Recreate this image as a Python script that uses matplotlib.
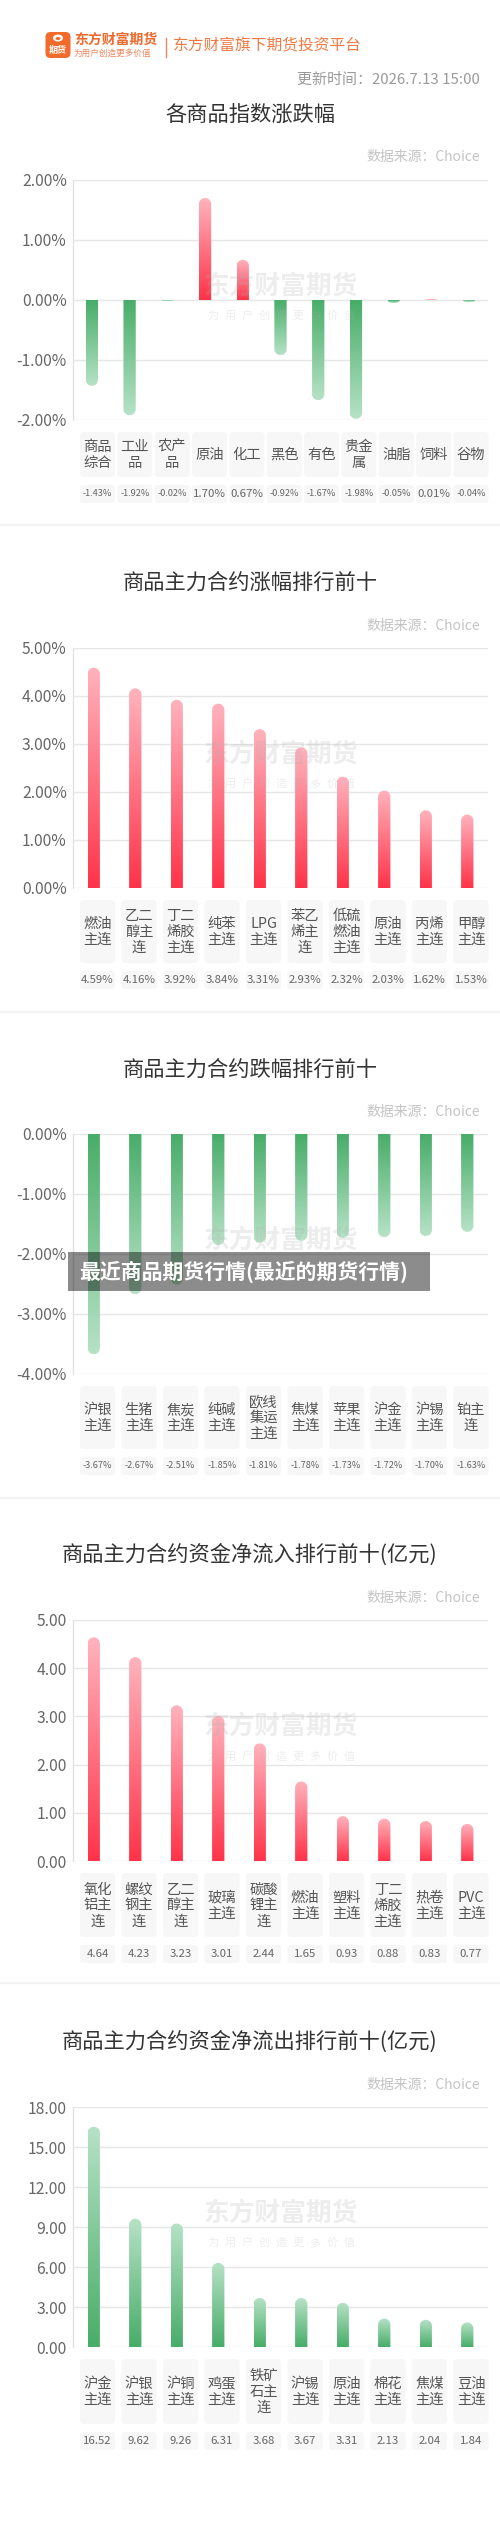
import numpy as np
import matplotlib
matplotlib.use("Agg")
import matplotlib.pyplot as plt
from matplotlib.colors import to_rgba
from matplotlib.path import Path
from matplotlib.patches import PathPatch, FancyBboxPatch, Rectangle, Ellipse
from matplotlib.ticker import FuncFormatter

plt.rcParams["font.family"] = ["Noto Sans CJK SC", "DejaVu Sans"]

# =========================
# data
# =========================
cats1 = ["商品\n综合", "工业\n品", "农产\n品", "原油", "化工", "黑色", "有色", "贵金\n属", "油脂", "饲料", "谷物"]
vals1 = [-1.43, -1.92, -0.02, 1.70, 0.67, -0.92, -1.67, -1.98, -0.05, 0.01, -0.04]

cats2 = ["燃油\n主连", "乙二\n醇主\n连", "丁二\n烯胶\n主连", "纯苯\n主连", "LPG\n主连",
         "苯乙\n烯主\n连", "低硫\n燃油\n主连", "原油\n主连", "丙烯\n主连", "甲醇\n主连"]
vals2 = [4.59, 4.16, 3.92, 3.84, 3.31, 2.93, 2.32, 2.03, 1.62, 1.53]

cats3 = ["沪银\n主连", "生猪\n主连", "焦炭\n主连", "纯碱\n主连", "欧线\n集运\n主连",
         "焦煤\n主连", "苹果\n主连", "沪金\n主连", "沪锡\n主连", "铂主\n连"]
vals3 = [-3.67, -2.67, -2.51, -1.85, -1.81, -1.78, -1.73, -1.72, -1.70, -1.63]

cats4 = ["氧化\n铝主\n连", "螺纹\n钢主\n连", "乙二\n醇主\n连", "玻璃\n主连", "碳酸\n锂主\n连",
         "燃油\n主连", "塑料\n主连", "丁二\n烯胶\n主连", "热卷\n主连", "PVC\n主连"]
vals4 = [4.64, 4.23, 3.23, 3.01, 2.44, 1.65, 0.93, 0.88, 0.83, 0.77]

cats5 = ["沪金\n主连", "沪银\n主连", "沪铜\n主连", "鸡蛋\n主连", "铁矿\n石主\n连",
         "沪锡\n主连", "原油\n主连", "棉花\n主连", "焦煤\n主连", "豆油\n主连"]
vals5 = [16.52, 9.62, 9.26, 6.31, 3.68, 3.67, 3.31, 2.13, 2.04, 1.84]

titles = ["各商品指数涨跌幅", "商品主力合约涨幅排行前十", "商品主力合约跌幅排行前十",
          "商品主力合约资金净流入排行前十(亿元)", "商品主力合约资金净流出排行前十(亿元)"]

# =========================
# layout (pixels, top origin)
# =========================
W, H = 500, 2543
AX_L, AX_R = 73, 488
BAR_PX = 12.3

RED0, RED1 = "#ff3349", "#ffb3bd"      # base -> tip
GREEN0, GREEN1 = "#48ad69", "#b6e2c6"

fig = plt.figure(figsize=(W / 100, H / 100), dpi=100)
fig.patch.set_facecolor("white")

bg = fig.add_axes([0, 0, 1, 1], zorder=0)
bg.set_xlim(0, W)
bg.set_ylim(H, 0)
bg.axis("off")


def px_axes(top, bottom, z=1):
    return fig.add_axes([AX_L / W, 1 - bottom / H, (AX_R - AX_L) / W, (bottom - top) / H], zorder=z)


def grad(c0, c1, n=80):
    a = np.array(to_rgba(c0))
    b = np.array(to_rgba(c1))
    t = np.linspace(0, 1, n)[:, None]
    return (a * (1 - t) + b * t)[:, None, :]


# =========================
# header
# =========================
bg.add_patch(FancyBboxPatch((45.5, 32), 25, 26, boxstyle="round,pad=0,rounding_size=5",
                            fc="#f26b2c", ec="none"))
bg.add_patch(Ellipse((58, 38), 10, 7, fc="white", ec="none"))
bg.add_patch(Ellipse((58, 38.5), 5, 3, fc="#f26b2c", ec="none"))
bg.text(58, 50.5, "期货", color="white", fontsize=6.5, weight="bold", ha="center", va="center")
bg.text(74, 40, "东方财富期货", color="#ee6a2e", fontsize=10, weight="bold", ha="left", va="center")
bg.text(74, 53.5, "为用户创造更多价值", color="#f0845a", fontsize=6.2, ha="left", va="center")
bg.plot([166, 166], [38, 57], color="#f0845a", lw=1)
bg.text(173, 46, "东方财富旗下期货投资平台", color="#f07a44", fontsize=11.3, ha="left", va="center")
bg.text(480, 80, "更新时间：2026.7.13 15:00", color="#9a9a9a", fontsize=10.8, ha="right", va="center")

# separators between panels
for ys in [525, 1012, 1498, 1983]:
    bg.plot([0, W], [ys, ys], color="#f3f3f3", lw=1.6)

# =========================
# panels
# =========================
panels = [
    # cats, vals, title_y, src_y, ax_top, ax_bot, ylim, step, pct, color mode, box_h
    (cats1, vals1, 115, 157, 180, 420, (-2, 2), 1, True, "sign", 45),
    (cats2, vals2, 583, 626, 648, 888, (0, 5), 1, True, "red", 63),
    (cats3, vals3, 1070, 1112, 1134, 1374, (-4, 0), 1, True, "green", 63),
    (cats4, vals4, 1555, 1598, 1620, 1861, (0, 5), 1, False, "red", 64),
    (cats5, vals5, 2042, 2085, 2107, 2347, (0, 18), 3, False, "green", 65),
]

BANNER = (68, 1252, 362, 39)  # x, y, w, h

overlay = fig.add_axes([0, 0, 1, 1], zorder=10)
overlay.set_xlim(0, W)
overlay.set_ylim(H, 0)
overlay.axis("off")
overlay.patch.set_alpha(0)

for k, (cats, vals, ty, sy, top, bot, ylim, step, pct, mode, box_h) in enumerate(panels):
    n = len(cats)
    bg.text(W / 2, ty, titles[k], color="#333333", fontsize=15.3, ha="center", va="center")
    bg.text(480, sy, "数据来源：Choice", color="#c4c4c4", fontsize=10, ha="right", va="center")

    ax = px_axes(top, bot)
    ax.patch.set_alpha(0)
    x = np.arange(n)
    band_px = (AX_R - AX_L) / n
    w = BAR_PX / band_px
    ppu = (bot - top) / (ylim[1] - ylim[0])

    bars = ax.bar(x, vals, width=w, color="none", linewidth=0)
    for rect, v in zip(bars, vals):
        l = rect.get_x()
        r = l + rect.get_width()
        cx = (l + r) / 2
        if mode == "sign":
            c0, c1 = (RED0, RED1) if v >= 0 else (GREEN0, GREEN1)
        elif mode == "red":
            c0, c1 = RED0, RED1
        else:
            c0, c1 = GREEN0, GREEN1
        s = 1 if v >= 0 else -1
        h = abs(v)
        ry = min((BAR_PX / 2) / ppu, h)
        t = np.linspace(0, np.pi, 30)
        verts = [(l, 0), (r, 0), (r, s * (h - ry))]
        verts += [(cx + (w / 2) * np.cos(a), s * (h - ry) + s * ry * np.sin(a)) for a in t]
        verts += [(l, 0)]
        codes = [Path.MOVETO] + [Path.LINETO] * (len(verts) - 2) + [Path.CLOSEPOLY]
        clip = PathPatch(Path(verts, codes), transform=ax.transData, fc="none", ec="none")
        im = ax.imshow(grad(c0, c1), extent=(l, r, 0, v), origin="lower", aspect="auto",
                       interpolation="bilinear", zorder=3)
        im.set_clip_path(clip)

    ax.set_xlim(-0.5, n - 0.5)
    ax.set_ylim(*ylim)
    ax.set_yticks(np.arange(ylim[0], ylim[1] + step / 2, step))
    if pct:
        ax.yaxis.set_major_formatter(FuncFormatter(lambda y, _: f"{y:.2f}%"))
    else:
        ax.yaxis.set_major_formatter(FuncFormatter(lambda y, _: f"{y:.2f}"))
    ax.set_xticks([])
    ax.tick_params(axis="y", length=0, pad=4.5, labelsize=11.3, labelcolor="#666666")
    ax.grid(axis="y", color="#e6e6e6", lw=1)
    ax.set_axisbelow(True)
    for sp in ["top", "right", "bottom"]:
        ax.spines[sp].set_visible(False)
    ax.spines["left"].set_color("#e2e2e2")
    ax.spines["left"].set_linewidth(1)

    # label boxes + values
    centers = np.linspace(97.5, 471, n)
    b_top = bot + 12
    v_top = b_top + box_h + 8
    for cx, c, v in zip(centers, cats, vals):
        bg.add_patch(FancyBboxPatch((cx - 17.5, b_top), 35, box_h,
                                    boxstyle="round,pad=0,rounding_size=4", fc="#f7f7f7", ec="none"))
        bg.text(cx, b_top + box_h / 2 + 0.5, c, color="#555555", fontsize=10.3, ha="center",
                va="center", linespacing=1.18)
        bg.add_patch(FancyBboxPatch((cx - 17.5, v_top), 35, 18,
                                    boxstyle="round,pad=0,rounding_size=3", fc="#f7f7f7", ec="none"))
        txt = f"{v:.2f}%" if pct else f"{v:.2f}"
        fs = 6.6 if v < 0 else 8.2
        bg.text(cx, v_top + 9, txt, color="#666666", fontsize=fs, ha="center", va="center")

    # watermark
    wy = (top + bot) / 2 - 14
    overlay.text(281, wy, "东方财富期货", color="#b0b0b0", alpha=0.22, fontsize=18.5,
                 weight="bold", ha="center", va="center")
    # letter-spaced slogan; skipped where the grey banner hides it
    sub_y = wy + 30
    if not (BANNER[1] <= sub_y <= BANNER[1] + BANNER[3]):
        for gx, ch in zip(np.linspace(213, 349, 9), "为用户创造更多价值"):
            overlay.text(gx, sub_y, ch, color="#b0b0b0", alpha=0.22, fontsize=8,
                         ha="center", va="center")

# grey caption banner over the third panel
overlay.add_patch(Rectangle(BANNER[:2], BANNER[2], BANNER[3], fc="black", alpha=0.45, ec="none"))
overlay.text(79, 1272, "最近商品期货行情(最近的期货行情)", color="white", fontsize=15,
             weight="bold", ha="left", va="center")

fig.savefig("out.png", dpi=100, facecolor="white")
